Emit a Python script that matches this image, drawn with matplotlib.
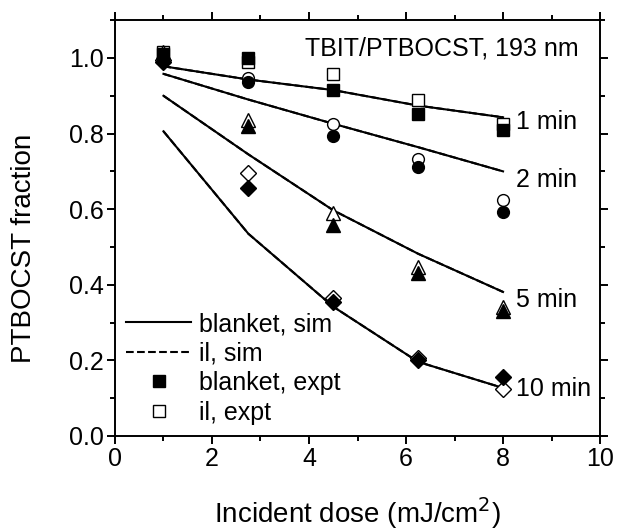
import numpy as np
import matplotlib
matplotlib.use('Agg')
import matplotlib.pyplot as plt
from matplotlib.ticker import MultipleLocator

plt.rcParams['font.family'] = ['Liberation Sans', 'DejaVu Sans']

# Incident dose values (mJ/cm^2)
dose = [1.0, 2.75, 4.5, 6.25, 8.0]

# Simulated PTBOCST fraction (blanket and il curves coincide)
sim_1min = [0.978, 0.943, 0.915, 0.874, 0.843]
sim_2min = [0.958, 0.890, 0.826, 0.764, 0.700]
sim_5min = [0.900, 0.745, 0.597, 0.482, 0.381]
sim_10min = [0.806, 0.535, 0.342, 0.196, 0.127]
il_sim_1min = sim_1min
il_sim_2min = sim_2min
il_sim_5min = sim_5min
il_sim_10min = sim_10min

# Experimental points, blanket exposure
blk_1min = [1.01, 1.00, 0.915, 0.852, 0.810]
blk_2min = [0.995, 0.936, 0.793, 0.711, 0.592]
blk_5min = [1.005, 0.821, 0.557, 0.432, 0.331]
blk_10min = [0.99, 0.657, 0.355, 0.201, 0.155]

# Experimental points, il exposure
il_1min = [1.015, 0.99, 0.958, 0.890, 0.825]
il_2min = [1.0, 0.947, 0.824, 0.733, 0.623]
il_5min = [1.015, 0.836, 0.591, 0.447, 0.341]
il_10min = [0.995, 0.695, 0.364, 0.205, 0.123]

time_labels = ['1 min', '2 min', '5 min', '10 min']
label_y = [0.83, 0.676, 0.359, 0.124]

FS = 18
LFS = 20

fig = plt.figure(figsize=(6.18, 5.31), dpi=100)
ax = fig.add_axes([0.186, 0.179, 0.785, 0.783])

sims = [sim_1min, sim_2min, sim_5min, sim_10min]
il_sims = [il_sim_1min, il_sim_2min, il_sim_5min, il_sim_10min]
blks = [blk_1min, blk_2min, blk_5min, blk_10min]
ils = [il_1min, il_2min, il_5min, il_10min]
markers = ['s', 'o', '^', 'D']
msizes = [8.5, 8.5, 9.5, 8]

for i in range(4):
    ax.plot(dose, il_sims[i], 'k--', lw=1.5, zorder=1)
    ax.plot(dose, sims[i], 'k-', lw=1.5, zorder=2)
    ax.plot(dose, ils[i], linestyle='none', marker=markers[i], ms=msizes[i],
            mfc='white', mec='black', mew=1.0, zorder=3)
    ax.plot(dose, blks[i], linestyle='none', marker=markers[i], ms=msizes[i],
            mfc='black', mec='black', mew=1.0, zorder=4)
    ax.text(8.27, label_y[i], time_labels[i], fontsize=FS, va='center', ha='left')

ax.text(3.92, 1.025, 'TBIT/PTBOCST, 193 nm', fontsize=FS, va='center', ha='left')

# legend proxies
h1, = ax.plot([], [], 'k-', lw=1.5, label='blanket, sim')
h2, = ax.plot([], [], 'k--', lw=1.5, label='il, sim')
h3, = ax.plot([], [], 'ks', ms=8.5, linestyle='none', label='blanket, expt')
h4, = ax.plot([], [], 's', ms=8.5, mfc='white', mec='black', linestyle='none', label='il, expt')
ax.legend(handles=[h1, h2, h3, h4], loc='lower left', bbox_to_anchor=(0.0, 0.0),
          frameon=False, fontsize=FS, handlelength=2.6, handletextpad=0.3,
          labelspacing=0.22, borderaxespad=0.3, borderpad=0.15)

ax.set_xlim(0, 10)
ax.set_ylim(0, 1.1)
ax.xaxis.set_major_locator(MultipleLocator(2))
ax.xaxis.set_minor_locator(MultipleLocator(1))
ax.yaxis.set_major_locator(MultipleLocator(0.2))
ax.yaxis.set_minor_locator(MultipleLocator(0.1))
ax.yaxis.set_major_formatter(matplotlib.ticker.FormatStrFormatter('%.1f'))

ax.tick_params(which='both', direction='out', top=True, right=True, width=1.4, labelsize=FS)
ax.tick_params(which='major', length=6, pad=2)
ax.tick_params(which='minor', length=3.5)
for s in ax.spines.values():
    s.set_linewidth(1.4)

ax.set_xlabel('Incident dose (mJ/cm$^2$)', fontsize=LFS, labelpad=17)
ax.set_ylabel('PTBOCST fraction', fontsize=LFS)
ax.yaxis.set_label_coords(-0.16, 0.45)

fig.savefig('out.png', dpi=100)
